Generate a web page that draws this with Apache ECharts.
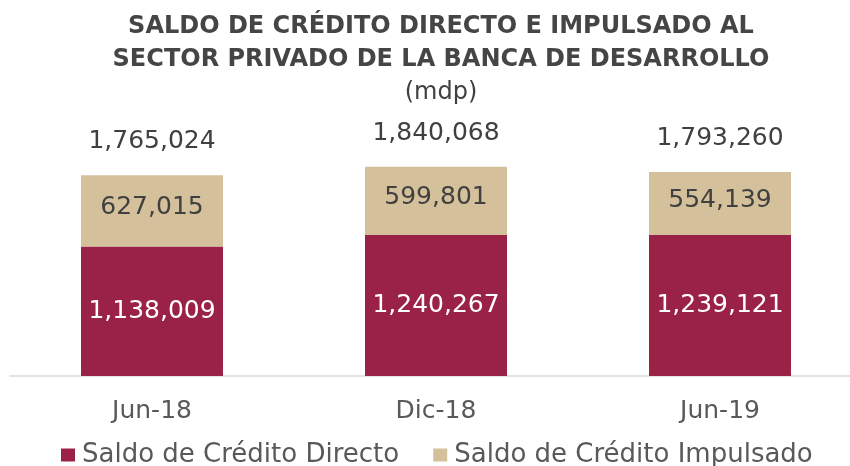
<!DOCTYPE html>
<html>
<head>
<meta charset="utf-8">
<script src="https://cdn.jsdelivr.net/npm/echarts@6/dist/echarts.min.js"></script>
<style>html,body{margin:0;padding:0;background:#fff;overflow:hidden;width:850px;height:466px}#c{width:862px;height:466px}</style>
</head>
<body>
<div id="c"></div>
<script>
const categories = ['Jun-18', 'Dic-18', 'Jun-19'];
const directo = [1138009, 1240267, 1239121];
const impulsado = [627015, 599801, 554139];
const totales = [1765024, 1840068, 1793260];
const seriesNames = ['Saldo de Crédito Directo', 'Saldo de Crédito Impulsado'];

const FONT = 'DejaVu Sans';
const fmt = v => v.toLocaleString('en-US');
const chart = echarts.init(document.getElementById('c'));
chart.setOption({
  animation: false,
  textStyle: { fontFamily: FONT },
  title: [
    { text: 'SALDO DE CRÉDITO DIRECTO E IMPULSADO AL\nSECTOR PRIVADO DE LA BANCA DE DESARROLLO',
      left: 436, top: 5, textAlign: 'center',
      textStyle: { fontFamily: FONT, fontSize: 24, fontWeight: 'bold', color: '#454545', lineHeight: 33 } },
    { text: '(mdp)', left: 436, top: 76, textAlign: 'center',
      textStyle: { fontFamily: FONT, fontSize: 24, fontWeight: 'normal', color: '#404040' } }
  ],
  legend: {
    data: seriesNames, top: 437, left: 56, itemWidth: 14, itemHeight: 13, itemGap: 34,
    icon: 'rect',
    textStyle: { fontFamily: FONT, fontSize: 26, color: '#595959', padding: [0, 0, 0, 2] }
  },
  grid: { left: 10, right: 0, top: 103, bottom: 90, containLabel: false },
  xAxis: {
    type: 'category', data: categories,
    axisLine: { lineStyle: { color: '#D9D9D9', width: 1.5 } },
    axisTick: { show: false },
    axisLabel: { fontFamily: FONT, fontSize: 25, color: '#595959', margin: 23 }
  },
  yAxis: { type: 'value', min: 0, max: 2400000, show: false, splitLine: { show: false } },
  series: [
    { name: seriesNames[0], type: 'bar', stack: 's', data: directo, barWidth: '50%',
      itemStyle: { color: '#9B2247' },
      label: { show: true, position: 'inside', formatter: p => fmt(p.value),
        fontFamily: FONT, fontSize: 25, color: '#ffffff' } },
    { name: seriesNames[1], type: 'bar', stack: 's', data: impulsado, barWidth: '50%',
      itemStyle: { color: '#D4C19C' },
      label: { show: true, position: 'inside', offset: [0, -3], formatter: p => fmt(p.value),
        fontFamily: FONT, fontSize: 25, color: '#404040' } },
    { name: 'Total', type: 'bar', data: totales, barWidth: '50%', barGap: '-100%',
      itemStyle: { color: 'rgba(0,0,0,0)' }, silent: true, z: 1,
      label: { show: true, position: 'top', distance: 21, formatter: p => fmt(p.value),
        fontFamily: FONT, fontSize: 25, color: '#404040' } }
  ]
});
</script>
</body>
</html>
